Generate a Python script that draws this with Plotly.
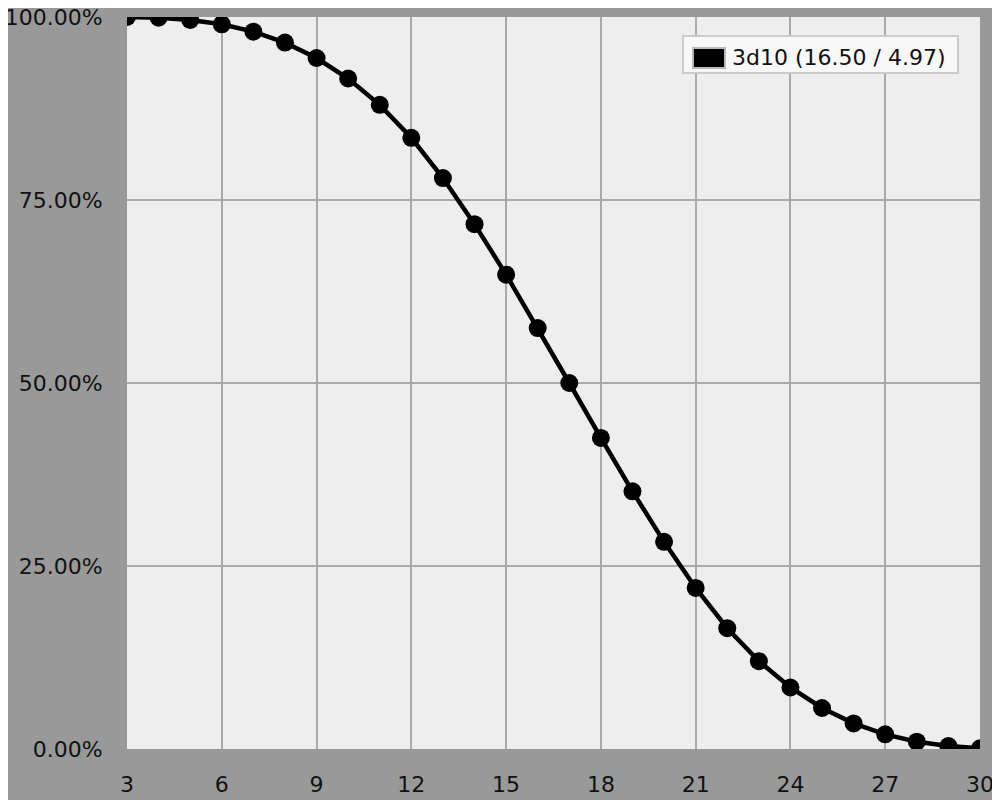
import plotly.graph_objects as go

sums = list(range(3, 31))
at_least_pct = [100.0, 99.9, 99.6, 99.0, 98.0, 96.5, 94.4, 91.6, 88.0, 83.5,
                78.0, 71.7, 64.8, 57.5, 50.0, 42.5, 35.2, 28.3, 22.0, 16.5,
                12.0, 8.4, 5.6, 3.5, 2.0, 1.0, 0.4, 0.1]
series_name = "3d10 (16.50 / 4.97)"
x_ticks = list(range(3, 31, 3))
y_ticks = [0, 0.25, 0.5, 0.75, 1.0]

yvals = [v / 100 for v in at_least_pct]

fig = go.Figure()
fig.add_trace(go.Scatter(
    x=sums, y=yvals, mode="lines+markers", name=series_name,
    line=dict(color="black", width=4.5),
    marker=dict(color="black", size=18),
    showlegend=False, cliponaxis=True,
))

font = dict(family="DejaVu Sans, Verdana, sans-serif", size=22, color="#111111")

# legend box drawn in paper coordinates
fig.add_shape(type="rect", xref="paper", yref="paper",
              x0=0.6518, x1=0.9742, y0=0.9235, y1=0.974,
              fillcolor="#f8f8f8", line=dict(color="#cccccc", width=2), layer="above")
fig.add_shape(type="rect", xref="paper", yref="paper",
              x0=0.6635, x1=0.7011, y0=0.9303, y1=0.9577,
              fillcolor="black", line=dict(color="#bbbbbb", width=2), layer="above")
fig.add_annotation(xref="paper", yref="paper", x=0.7075, y=0.944,
                   xanchor="left", yanchor="middle", text=series_name,
                   showarrow=False, font=font)

fig.update_layout(
    width=1000, height=800,
    paper_bgcolor="#999999", plot_bgcolor="#eeeeee",
    margin=dict(l=119, r=28, t=9, b=59, autoexpand=False),
    font=font,
    showlegend=False,
    xaxis=dict(
        range=[3, 30], tickvals=x_ticks, ticktext=[str(t) for t in x_ticks],
        showgrid=True, gridcolor="#aaaaaa", gridwidth=2,
        zeroline=False, showline=False, automargin=False,
        ticks="outside", ticklen=16, tickcolor="rgba(0,0,0,0)",
        ticklabeloverflow="allow",
    ),
    yaxis=dict(
        range=[0, 1], tickvals=y_ticks, tickformat=".2%",
        showgrid=True, gridcolor="#aaaaaa", gridwidth=2,
        zeroline=False, showline=False, automargin=False,
        ticks="outside", ticklen=19, tickcolor="rgba(0,0,0,0)",
        ticklabeloverflow="allow",
    ),
)

fig.write_html("out.html")
